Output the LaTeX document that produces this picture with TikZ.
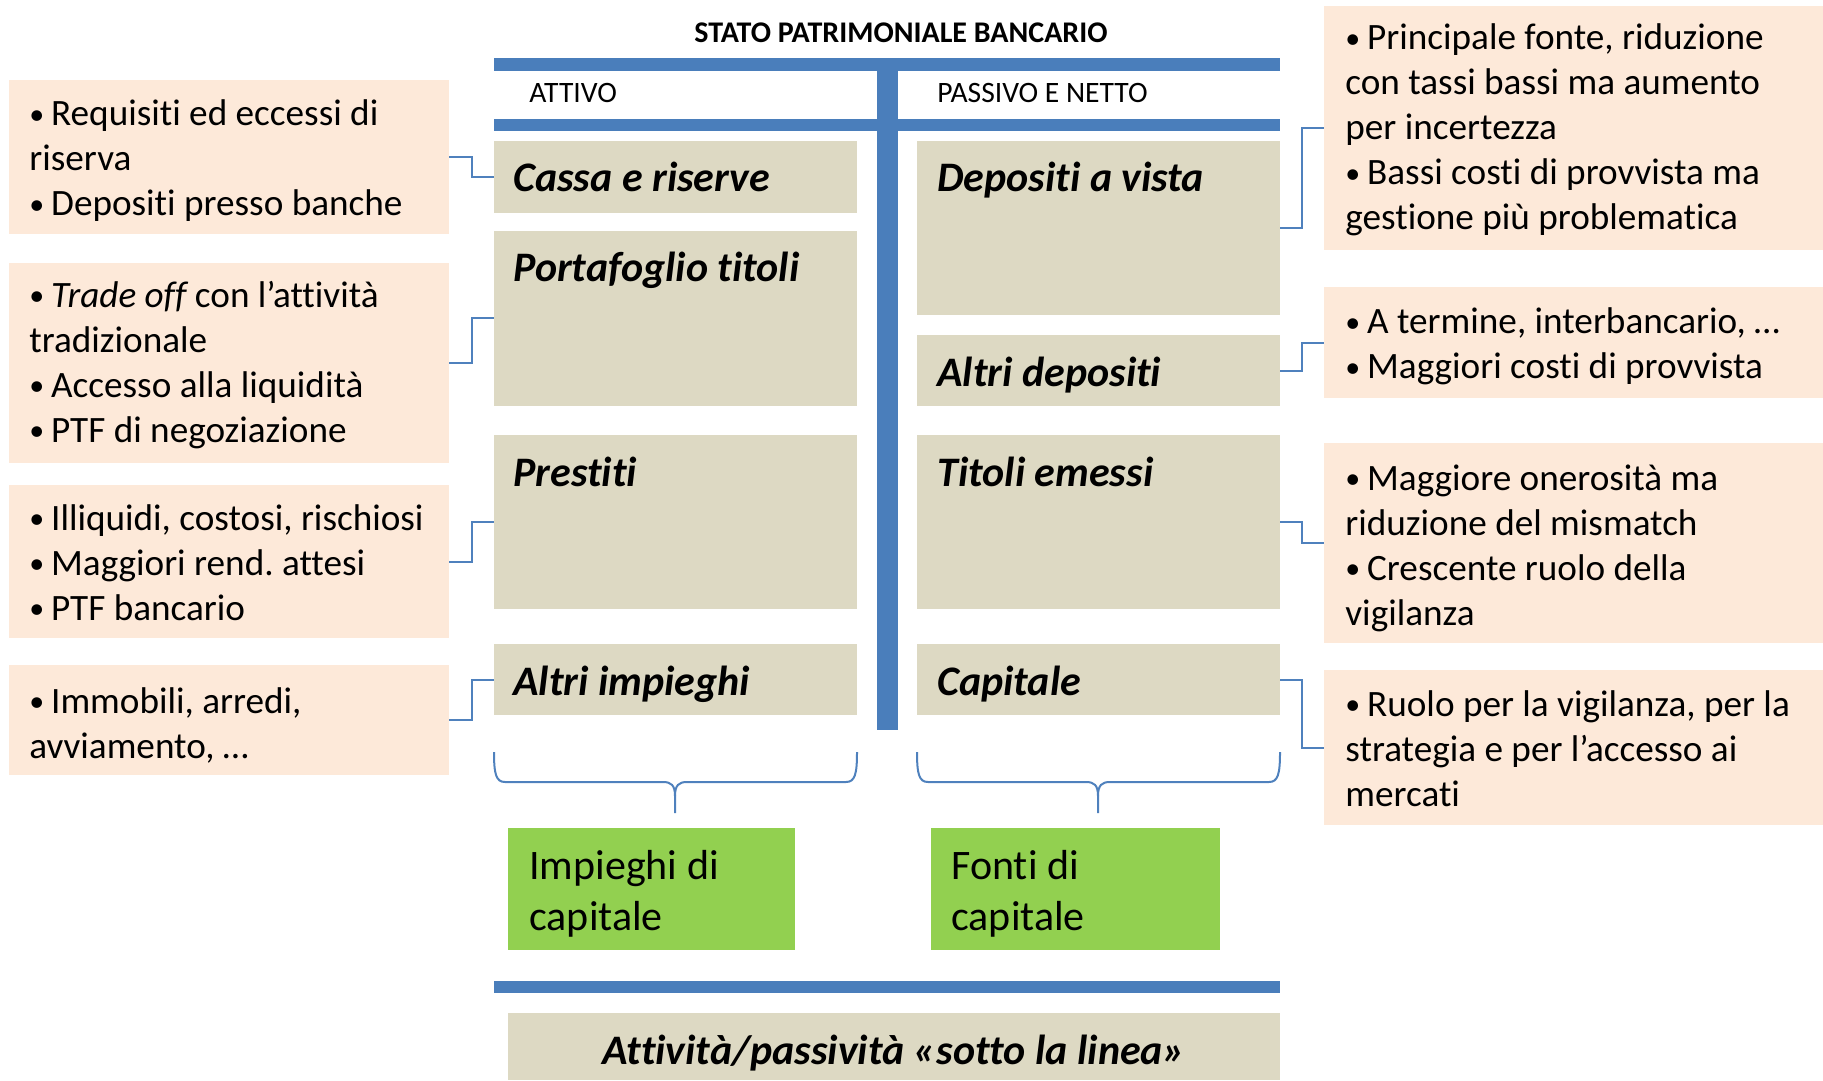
\documentclass[tikz,border=0pt]{standalone}
\usepackage{fontspec}
\setmainfont{Carlito}[Ligatures=NoCommon]
\usetikzlibrary{fit,calc}
\definecolor{barblue}{RGB}{74,126,187}
\definecolor{lineblue}{RGB}{79,129,189}
\definecolor{tanc}{RGB}{221,217,195}
\definecolor{pinkc}{RGB}{253,233,217}
\definecolor{greenc}{RGB}{146,208,80}
\frenchspacing
\newcommand\bul{\raisebox{0.9pt}{\fontsize{15}{15}\selectfont •}\hspace{3.4pt}}
\tikzset{
  barfill/.style={fill=barblue, draw=none},
  tanbox/.style={fill=tanc, draw=none, inner sep=0pt},
  pinkbox/.style={fill=pinkc, draw=none, inner sep=0pt},
  greenbox/.style={fill=greenc, draw=none, inner sep=0pt},
  lbl/.style={font=\fontsize{21}{25}\selectfont\bfseries\itshape, anchor=base west, inner sep=0pt},
  note/.style={font=\fontsize{18.6}{22.5}\selectfont, align=left, anchor=base west, inner sep=0pt},
  gtext/.style={font=\fontsize{21}{25.5}\selectfont, align=left, anchor=base west, inner sep=0pt},
  head/.style={font=\fontsize{14.8}{17}\selectfont, anchor=base west, inner sep=0pt},
  conn/.style={draw=lineblue, line width=1pt},
  bracec/.style={draw=lineblue, line width=1pt},
}
\begin{document}
\begin{tikzpicture}[x=0.5pt, y=-0.5pt]
\useasboundingbox (0,0) rectangle (1823,1080);

% title and header bars
\node[font=\fontsize{15}{18}\selectfont\bfseries, anchor=base, inner sep=0pt] (title) at (901,43) {STATO PATRIMONIALE BANCARIO};
\fill[barfill] (494,58) rectangle (1280,71);
\fill[barfill] (494,119) rectangle (1280,131);
\fill[barfill] (877,58) rectangle (898,730);
\node[head] (attivo) at (529,103) {ATTIVO};
\node[head] (passivo) at (937,103) {PASSIVO E NETTO};

% tan boxes (left)
\node[tanbox, fit={(494,141) (857,213)}] (cassa) {};
\node[tanbox, fit={(494,231) (857,406)}] (portaf) {};
\node[tanbox, fit={(494,435) (857,609)}] (prestiti) {};
\node[tanbox, fit={(494,644) (857,715)}] (altriimp) {};
\node[lbl] (cassat) at (513,192) {Cassa e riserve};
\node[lbl] (portaft) at (513,282) {Portafoglio titoli};
\node[lbl] (prestitit) at (513,486) {Prestiti};
\node[lbl] (altriimpt) at (513,695) {Altri impieghi};

% tan boxes (right)
\node[tanbox, fit={(917,141) (1280,315)}] (depvista) {};
\node[tanbox, fit={(917,335) (1280,406)}] (altridep) {};
\node[tanbox, fit={(917,435) (1280,609)}] (titoli) {};
\node[tanbox, fit={(917,644) (1280,715)}] (capitale) {};
\node[lbl] (depvistat) at (937,192) {Depositi a vista};
\node[lbl] (altridept) at (937,386) {Altri depositi};
\node[lbl] (titolit) at (937,486) {Titoli emessi};
\node[lbl] (capitalet) at (937,695) {Capitale};

% left notes (anchor = baseline of last line)
\node[pinkbox, fit={(9,80) (449,234)}] (lp1) {};
\node[pinkbox, fit={(9,263) (449,463)}] (lp2) {};
\node[pinkbox, fit={(9,485) (449,638)}] (lp3) {};
\node[pinkbox, fit={(9,665) (449,775)}] (lp4) {};
\node[note] (lp1t) at (29,216) {\bul Requisiti ed eccessi di\\riserva\\\bul Depositi presso banche};
\node[note] (lp2t) at (29,442) {\bul {\itshape Trade off} con l’attività\\tradizionale\\\bul Accesso alla liquidità\\\bul PTF di negoziazione};
\node[note] (lp3t) at (29,620) {\bul Illiquidi, costosi, rischiosi\\\bul Maggiori rend. attesi\\\bul PTF bancario};
\node[note] (lp4t) at (29,758) {\bul Immobili, arredi,\\avviamento, …};

% right notes
\node[pinkbox, fit={(1324,6) (1823,250)}] (rp1) {};
\node[pinkbox, fit={(1324,287) (1823,398)}] (rp2) {};
\node[pinkbox, fit={(1324,443) (1823,643)}] (rp3) {};
\node[pinkbox, fit={(1324,670) (1823,825)}] (rp4) {};
\node[note] (rp1t) at (1345,230) {\bul Principale fonte, riduzione\\con tassi bassi ma aumento\\per incertezza\\\bul Bassi costi di provvista ma\\gestione più problematica};
\node[note] (rp2t) at (1345,379) {\bul A termine, interbancario, …\\\bul Maggiori costi di provvista};
\node[note] (rp3t) at (1345,625) {\bul Maggiore onerosità ma\\riduzione del mismatch\\\bul Crescente ruolo della\\vigilanza};
\node[note] (rp4t) at (1345,806) {\bul Ruolo per la vigilanza, per la\\strategia e per l’accesso ai\\mercati};

% connectors
\draw[conn] (lp1.east) -| ($(lp1.east)!.5!(cassa.west)$) |- (cassa.west);
\draw[conn] (lp2.east) -| ($(lp2.east)!.5!(portaf.west)$) |- (portaf.west);
\draw[conn] (lp3.east) -| ($(lp3.east)!.5!(prestiti.west)$) |- (prestiti.west);
\draw[conn] (lp4.east) -| ($(lp4.east)!.5!(altriimp.west)$) |- (altriimp.west);
\draw[conn] (depvista.east) -| ($(depvista.east)!.5!(rp1.west)$) |- (rp1.west);
\draw[conn] (altridep.east) -| ($(altridep.east)!.5!(rp2.west)$) |- (rp2.west);
\draw[conn] (titoli.east) -| ($(titoli.east)!.5!(rp3.west)$) |- (rp3.west);
\draw[conn] (capitale.east) -| ($(capitale.east)!.5!(rp4.west)$) |- (rp4.west);

% braces
\draw[bracec] (494,752) .. controls (494,774) and (496,782) .. (505,782) -- (663,782)
  .. controls (671,782) and (675,785) .. (675,796) -- (675,813);
\draw[bracec] (675,796) .. controls (675,785) and (679,782) .. (687,782) -- (846,782)
  .. controls (855,782) and (857,774) .. (857,752);
\draw[bracec] (917,752) .. controls (917,774) and (919,782) .. (928,782) -- (1086,782)
  .. controls (1094,782) and (1098,785) .. (1098,796) -- (1098,813);
\draw[bracec] (1098,796) .. controls (1098,785) and (1102,782) .. (1110,782) -- (1269,782)
  .. controls (1278,782) and (1280,774) .. (1280,752);

% green boxes
\node[greenbox, fit={(508,828) (795,950)}] (impieghi) {};
\node[greenbox, fit={(931,828) (1220,950)}] (fonti) {};
\node[gtext] (impieghit) at (529,930) {Impieghi di\\capitale};
\node[gtext] (fontit) at (951,930) {Fonti di\\capitale};

% bottom
\fill[barfill] (494,981) rectangle (1280,993);
\node[tanbox, fit={(508,1013) (1280,1080)}] (sotto) {};
\node[lbl, anchor=base] (sottot) at (894,1064) {Attività/passività «sotto la linea»};
\end{tikzpicture}
\end{document}
